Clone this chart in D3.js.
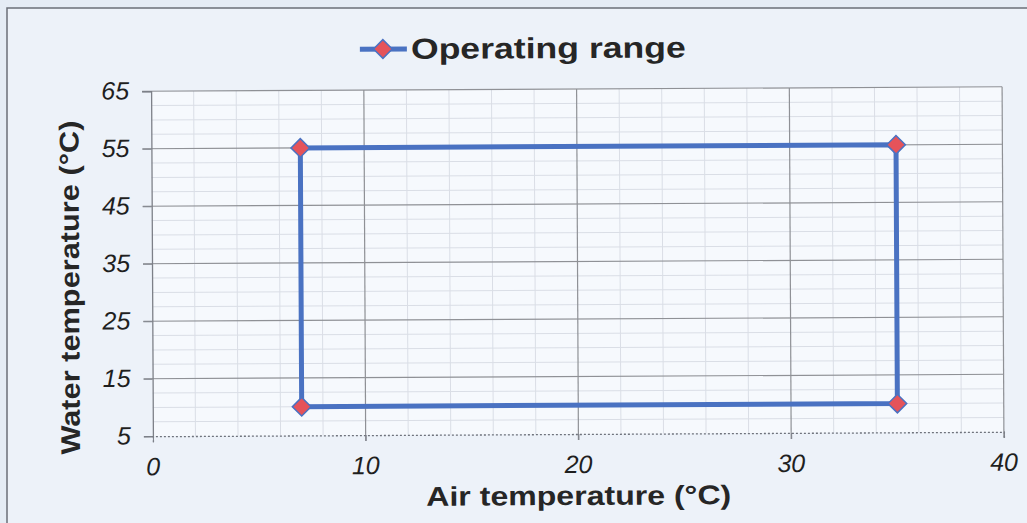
<!DOCTYPE html>
<html>
<head>
<meta charset="utf-8">
<script src="https://cdn.jsdelivr.net/npm/d3@7"></script>
<style>
  html, body { margin: 0; padding: 0; background: #e5ecf5; }
  svg { display: block; }
  .tick-label { font-family: "Liberation Sans", Arial, sans-serif; font-style: italic; font-size: 25px; fill: #1f1f1f; }
  .axis-title { font-family: "Liberation Sans", Arial, sans-serif; font-weight: bold; fill: #262626; }
</style>
</head>
<body>
<svg id="chart" width="1027" height="523"></svg>
<script>
// operating envelope corners (air temp, water temp), drawn as a closed loop
var airTemp = [7, 7, 35, 35, 7];
var waterTemp = [10, 55, 55, 10, 10];
var markerIdx = [0, 1, 2, 3];

var xTicks = [0, 10, 20, 30, 40];
var yTicks = [5, 15, 25, 35, 45, 55, 65];
var xMinor = [2, 4, 6, 8, 12, 14, 16, 18, 22, 24, 26, 28, 32, 34, 36, 38];
var yMinor = [7.5, 10, 12.5, 17.5, 20, 22.5, 27.5, 30, 32.5, 37.5, 40, 42.5, 47.5, 50, 52.5, 57.5, 60, 62.5];

var seriesName = 'Operating range';
var xTitle = 'Air temperature (°C)';
var yTitle = 'Water temperature (°C)';

var lineColor = '#4a72c2';
var markerColor = '#e5535a';

var svg = d3.select('#chart');

// outer chart frame
svg.append('rect')
    .attr('x', 7).attr('y', 8)
    .attr('width', 1040).attr('height', 540)
    .attr('fill', '#edf2f9')
    .attr('stroke', '#6b6f78')
    .attr('stroke-width', 1.5);

var root = svg.append('g')
    .attr('transform', 'rotate(-0.3, 577, 262)');

var x = d3.scaleLinear().domain([0, 40]).range([152, 1003]);
var y = d3.scaleLinear().domain([5, 65]).range([434, 89]);

// plot area
root.append('rect')
    .attr('x', x(0)).attr('y', y(65))
    .attr('width', x(40) - x(0)).attr('height', y(5) - y(65))
    .attr('fill', '#f6f9fd');

// minor grid
root.append('g').selectAll('line.vminor')
    .data(xMinor).join('line')
    .attr('x1', d => x(d)).attr('x2', d => x(d))
    .attr('y1', y(65)).attr('y2', y(5))
    .attr('stroke', '#dadee6').attr('stroke-width', 1);

root.append('g').selectAll('line.hminor')
    .data(yMinor).join('line')
    .attr('x1', x(0)).attr('x2', x(40))
    .attr('y1', d => y(d)).attr('y2', d => y(d))
    .attr('stroke', '#dadee6').attr('stroke-width', 1);

// major grid (with outside tick stubs)
root.append('g').selectAll('line')
    .data(xTicks.slice(1)).join('line')
    .attr('x1', d => x(d)).attr('x2', d => x(d))
    .attr('y1', y(65)).attr('y2', y(5) + 6)
    .attr('stroke', '#8f9196').attr('stroke-width', 1.2);

root.append('g').selectAll('line')
    .data(yTicks.slice(1)).join('line')
    .attr('x1', x(0) - 9).attr('x2', x(40))
    .attr('y1', d => y(d)).attr('y2', d => y(d))
    .attr('stroke', '#8f9196').attr('stroke-width', 1.2);

// axes
var yAxis = root.append('g')
    .attr('transform', 'translate(' + x(0) + ',0)')
    .call(d3.axisLeft(y).tickValues(yTicks).tickSize(9).tickFormat(''));
yAxis.select('.domain').attr('stroke', '#7d8088').attr('stroke-width', 1.3);
yAxis.selectAll('.tick line').attr('stroke', '#7d8088');

var xAxis = root.append('g')
    .attr('transform', 'translate(0,' + y(5) + ')')
    .call(d3.axisBottom(x).tickValues(xTicks).tickSize(6).tickFormat(''));
xAxis.select('.domain').attr('stroke', '#6f737c').attr('stroke-width', 1.3).attr('stroke-dasharray', '2,2');
xAxis.selectAll('.tick line').attr('stroke', '#7d8088');

// tick labels
root.append('g').selectAll('text')
    .data(yTicks).join('text')
    .attr('class', 'tick-label')
    .attr('x', 130)
    .attr('y', d => y(d) + 8)
    .attr('text-anchor', 'end')
    .text(d => d);

root.append('g').selectAll('text')
    .data(xTicks).join('text')
    .attr('class', 'tick-label')
    .attr('x', d => x(d))
    .attr('y', 473)
    .attr('text-anchor', 'middle')
    .text(d => d);

// the envelope line
var line = d3.line()
    .x(function (d, i) { return x(airTemp[i]); })
    .y(function (d, i) { return y(waterTemp[i]); })
    .curve(d3.curveLinear);

root.append('path')
    .datum(airTemp)
    .attr('d', line)
    .attr('fill', 'none')
    .attr('stroke', lineColor)
    .attr('stroke-width', 5)
    .attr('stroke-linejoin', 'miter');

var diamond = d3.symbol().type(d3.symbolSquare).size(175);

root.append('g').selectAll('path')
    .data(markerIdx).join('path')
    .attr('d', diamond)
    .attr('transform', i => 'translate(' + x(airTemp[i]) + ',' + y(waterTemp[i]) + ') rotate(45)')
    .attr('fill', markerColor)
    .attr('stroke', lineColor)
    .attr('stroke-width', 1.5);

// legend
var legend = root.append('g');
legend.append('line')
    .attr('x1', 361).attr('x2', 408)
    .attr('y1', 48).attr('y2', 48)
    .attr('stroke', lineColor).attr('stroke-width', 5);
legend.append('path')
    .attr('d', diamond)
    .attr('transform', 'translate(384,48) rotate(45)')
    .attr('fill', markerColor)
    .attr('stroke', lineColor)
    .attr('stroke-width', 1.5);
legend.append('text')
    .attr('class', 'axis-title')
    .attr('x', 412).attr('y', 58)
    .attr('font-size', 29)
    .attr('textLength', 275)
    .attr('lengthAdjust', 'spacingAndGlyphs')
    .text(seriesName);

// axis titles
root.append('text')
    .attr('class', 'axis-title')
    .attr('x', 425).attr('y', 505)
    .attr('font-size', 27)
    .attr('textLength', 305)
    .attr('lengthAdjust', 'spacingAndGlyphs')
    .text(xTitle);

root.append('text')
    .attr('class', 'axis-title')
    .attr('transform', 'translate(79,452) rotate(-90)')
    .attr('font-size', 27)
    .attr('textLength', 334)
    .attr('lengthAdjust', 'spacingAndGlyphs')
    .text(yTitle);
</script>
</body>
</html>
